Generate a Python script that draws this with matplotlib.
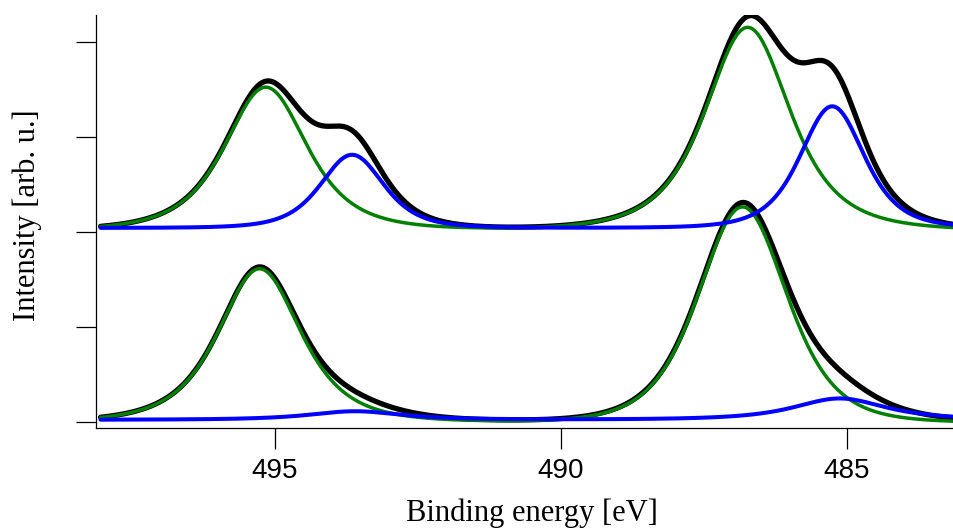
import numpy as np
import matplotlib
matplotlib.use("Agg")
import matplotlib.pyplot as plt

# Sn 3d region, two fitted spectra stacked (upper one offset by +2)
x_ticks = [495, 490, 485]
y_ticks = [0, 1, 2, 3, 4]

# upper spectrum: components (green = doublet A, blue = doublet B)
up_green_center = [495.16, 486.73]
up_green_height = [1.51, 2.14]
up_green_fwhm = [1.70, 1.75]
up_green_shape = [2.0, 2.0]
up_green_base = 2.01
up_blue_center = [493.65, 485.25]
up_blue_height = [0.77, 1.28]
up_blue_fwhm = [1.30, 1.32]
up_blue_shape = [2.5, 2.5]
up_blue_base = 2.04

# lower spectrum
lo_green_center = [495.27, 486.82]
lo_green_height = [1.62, 2.27]
lo_green_fwhm = [1.70, 1.82]
lo_green_shape = [2.0, 3.0]
lo_green_base = -0.01
lo_blue_center = [493.60, 485.12]
lo_blue_height = [0.09, 0.225]
lo_blue_fwhm = [1.90, 1.90]
lo_blue_shape = [1.5, 1.5]
lo_blue_base = 0.02


def pearson7(e, center, height, fwhm, m):
    u = (e - center) / fwhm
    k = 4 * (2 ** (1 / m) - 1)
    return height * (1 + k * u**2) ** (-m)


def doublet(e, centers, heights, fwhms, shapes):
    total = np.zeros_like(e)
    for c, h, w, m in zip(centers, heights, fwhms, shapes):
        total += pearson7(e, c, h, w, m)
    return total


energy = np.linspace(498.05, 483.0, 800)

up_g = doublet(energy, up_green_center, up_green_height, up_green_fwhm, up_green_shape)
up_b = doublet(energy, up_blue_center, up_blue_height, up_blue_fwhm, up_blue_shape)
lo_g = doublet(energy, lo_green_center, lo_green_height, lo_green_fwhm, lo_green_shape)
lo_b = doublet(energy, lo_blue_center, lo_blue_height, lo_blue_fwhm, lo_blue_shape)

fig = plt.figure(figsize=(9.54, 5.31), dpi=100)
ax = fig.add_axes([96 / 954, 1 - 428.3 / 531, (954 - 96) / 954, (428.3 - 15) / 531])

green = "#007f00"
blue = "#0000ff"

# envelopes first, then components on top
ax.plot(energy, up_green_base + up_g + up_b, color="black", lw=3.8, solid_capstyle="round")
ax.plot(energy, lo_green_base + lo_g + lo_b, color="black", lw=3.8, solid_capstyle="round")
ax.plot(energy, up_green_base + up_g, color=green, lw=2.5, solid_capstyle="round")
ax.plot(energy, lo_green_base + lo_g, color=green, lw=2.5, solid_capstyle="round")
ax.plot(energy, up_blue_base + up_b, color=blue, lw=2.9, solid_capstyle="round")
ax.plot(energy, lo_blue_base + lo_b, color=blue, lw=2.9, solid_capstyle="round")

ax.set_xlim(498.13, 483.12)
ax.set_ylim(-0.069, 4.281)
ax.set_xticks(x_ticks)
ax.set_xticklabels([str(t) for t in x_ticks], family="Liberation Sans", fontsize=20)
ax.set_yticks(y_ticks)
ax.tick_params(axis="x", length=15, width=0.9, pad=6.5, direction="out")
ax.tick_params(axis="y", length=14.4, width=0.9, labelleft=False, direction="out")

for side in ["top", "right"]:
    ax.spines[side].set_visible(False)
for side in ["left", "bottom"]:
    ax.spines[side].set_linewidth(0.9)

fig.text(532 / 954, 1 - 513 / 531, "Binding energy [eV]", family="Liberation Serif",
         fontsize=22, ha="center", va="center")
fig.text(27 / 954, 1 - 215.5 / 531, "Intensity [arb. u.]", family="Liberation Serif",
         fontsize=22, ha="center", va="center", rotation=90)

fig.savefig("out.png", dpi=100)
